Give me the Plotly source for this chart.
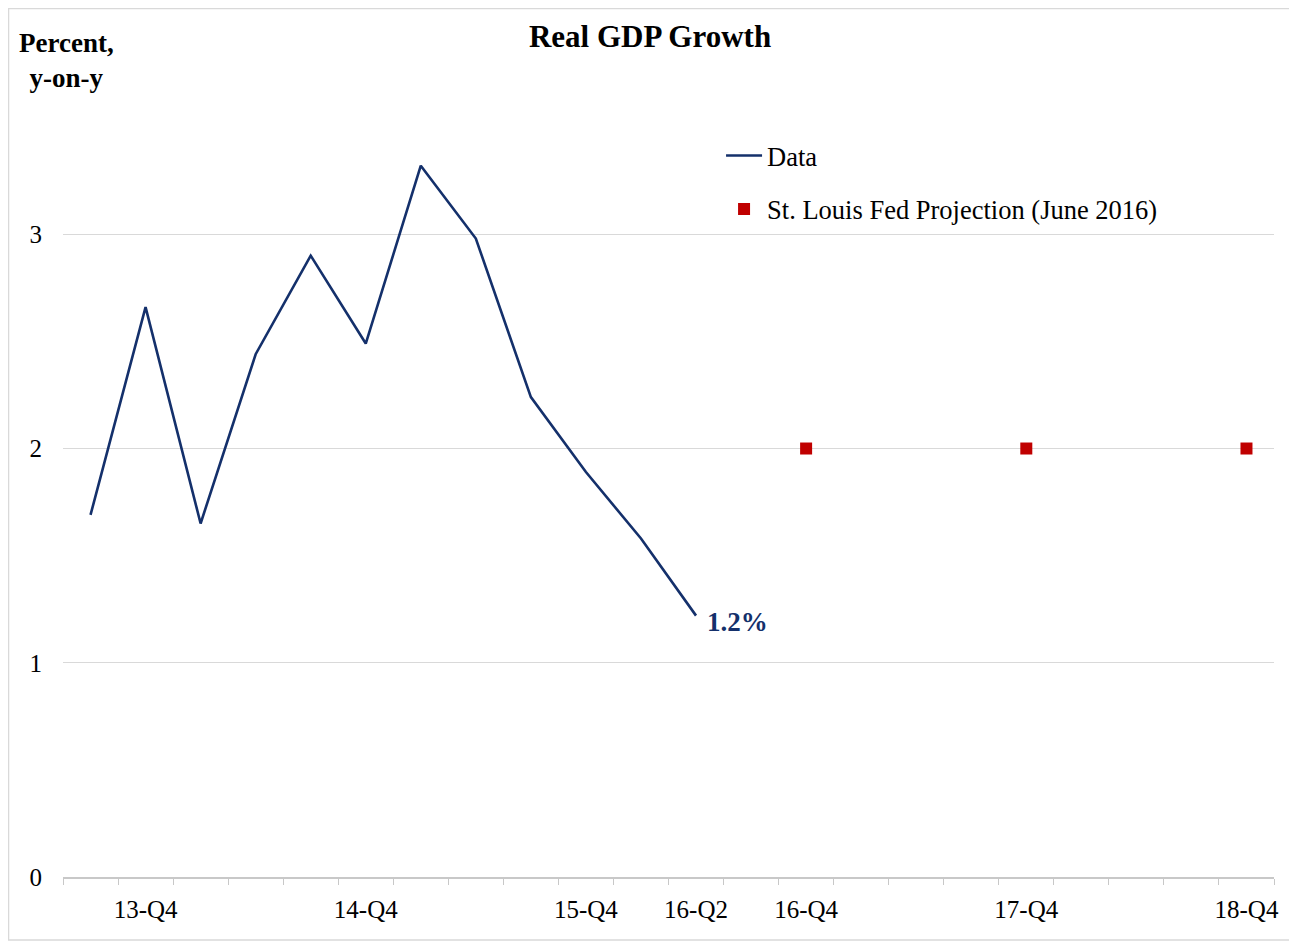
import plotly.graph_objects as go

# Quarter categories on the x axis (13-Q3 .. 18-Q4)
quarters = ["13-Q3", "13-Q4", "14-Q1", "14-Q2", "14-Q3", "14-Q4",
            "15-Q1", "15-Q2", "15-Q3", "15-Q4", "16-Q1", "16-Q2",
            "16-Q3", "16-Q4", "17-Q1", "17-Q2", "17-Q3", "17-Q4",
            "18-Q1", "18-Q2", "18-Q3", "18-Q4"]

# Historical data
data_quarters = ["13-Q3", "13-Q4", "14-Q1", "14-Q2", "14-Q3", "14-Q4",
                 "15-Q1", "15-Q2", "15-Q3", "15-Q4", "16-Q1", "16-Q2"]
data_values = [1.69, 2.66, 1.65, 2.44, 2.90, 2.49, 3.32, 2.98, 2.24, 1.89, 1.58, 1.22]

# Projection
proj_quarters = ["16-Q4", "17-Q4", "18-Q4"]
proj_values = [2.0, 2.0, 2.0]

# Labelled ticks
tick_labels = ["13-Q4", "14-Q4", "15-Q4", "16-Q2", "16-Q4", "17-Q4", "18-Q4"]
y_ticks = [0, 1, 2, 3]

last_label = "1.2%"

idx = {q: i for i, q in enumerate(quarters)}
FONT = "Liberation Serif, Times New Roman, serif"
NAVY = "#14306B"
RED = "#C00000"

fig = go.Figure()
fig.add_trace(go.Scatter(
    x=[idx[q] for q in data_quarters], y=data_values,
    mode="lines", name="Data", legendgroup="a",
    line=dict(color=NAVY, width=2.6),
))
fig.add_trace(go.Scatter(
    x=[idx[q] for q in proj_quarters], y=proj_values,
    mode="markers", name="St. Louis Fed Projection (June 2016)", legendgroup="b",
    marker=dict(symbol="square", size=12, color=RED),
))

fig.add_annotation(
    x=idx[data_quarters[-1]], y=data_values[-1], text="<b>" + last_label + "</b>",
    showarrow=False, xanchor="left", yanchor="middle", xshift=9, yshift=-6,
    font=dict(family=FONT, size=27, color=NAVY),
)
fig.add_annotation(
    x=0.0025, y=1.0435, xref="paper", yref="paper",
    text="<b>Percent,<br>y-on-y</b>", showarrow=False, align="center",
    xanchor="center", yanchor="middle",
    font=dict(family=FONT, size=27, color="#000000"),
)
# outer light frame
fig.add_shape(type="rect", xref="paper", yref="paper",
              x0=-0.045, x1=1.0165, y0=-0.0806, y1=1.1106,
              line=dict(color="#D9D9D9", width=1.5), layer="below")

fig.update_layout(
    width=1289, height=937,
    margin=dict(l=55, r=23, t=87, b=68),
    paper_bgcolor="white", plot_bgcolor="white",
    title=dict(text="<b>Real GDP Growth</b>", x=(650 - 8) / 1289, xref="container", xanchor="center",
               y=1 - 28 / 937, yanchor="middle",
               font=dict(family=FONT, size=31, color="#000000")),
    font=dict(family=FONT, size=24, color="#000000"),
    showlegend=True,
    legend=dict(x=0.5434, y=0.953, xanchor="left", yanchor="top",
                bgcolor="rgba(0,0,0,0)", traceorder="grouped", tracegroupgap=16,
                font=dict(family=FONT, size=26.5, color="#000000"), itemwidth=36),
)
fig.update_xaxes(
    range=[-0.5, len(quarters) - 0.5],
    tickvals=[idx[q] for q in tick_labels], ticktext=tick_labels,
    ticks="", showgrid=False, zeroline=False,
    showline=True, linecolor="#C8C8C8", linewidth=1.5,
    minor=dict(ticks="outside", tick0=-0.5, dtick=1, ticklen=6, tickcolor="#C8C8C8", showgrid=False),
    tickfont=dict(family=FONT, size=25, color="#000000"),
    ticklabelstandoff=9,
)
fig.update_yaxes(
    range=[0, 3.65], tickvals=y_ticks,
    showgrid=True, gridcolor="#D9D9D9", gridwidth=1,
    zeroline=False, showline=False, ticks="",
    tickfont=dict(family=FONT, size=25, color="#000000"),
    ticklabelstandoff=20,
)

fig.write_html("out.html")
